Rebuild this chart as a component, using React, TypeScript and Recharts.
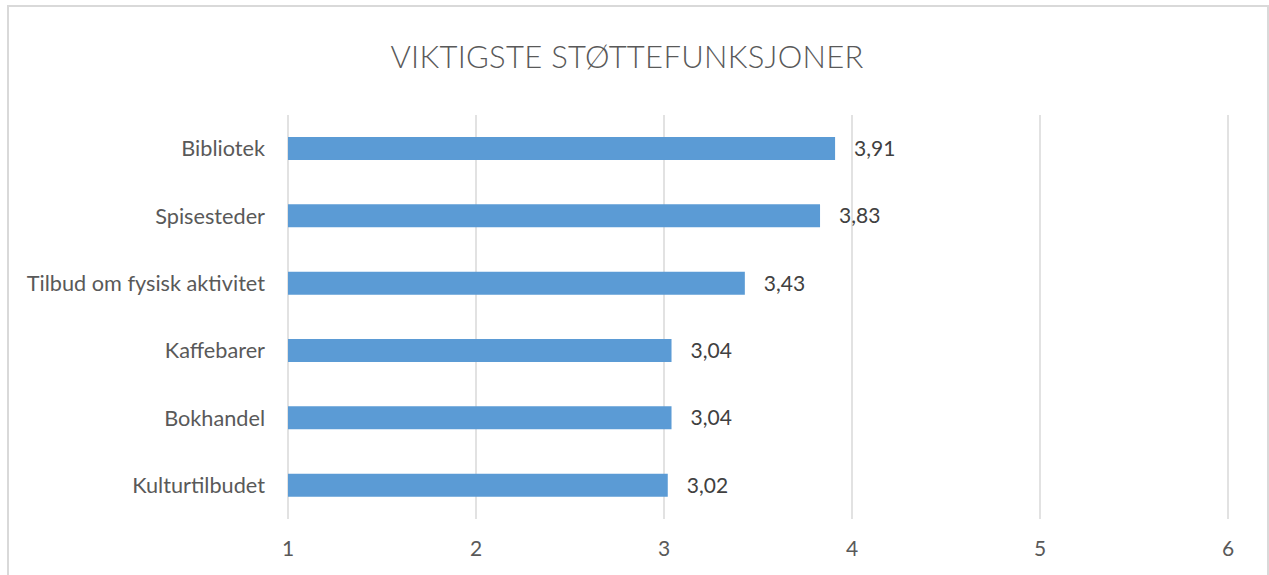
import React from "react";
import { BarChart, Bar, XAxis, YAxis, CartesianGrid, LabelList } from "recharts";

const categories = ["Bibliotek", "Spisesteder", "Tilbud om fysisk aktivitet", "Kaffebarer", "Bokhandel", "Kulturtilbudet"];
const values = [3.91, 3.83, 3.43, 3.04, 3.04, 3.02];
const xTicks = [1, 2, 3, 4, 5, 6];
const title = "VIKTIGSTE STØTTEFUNKSJONER";

const data = categories.map((c, i) => ({ name: c, value: values[i] }));

const font = "Lato, 'Open Sans', sans-serif";

export default function App() {
  return (
    <div style={{ position: "absolute", left: 0, top: 0, width: 1269, height: 575, background: "#fff", overflow: "hidden", fontFamily: font }}>
      <div style={{ position: "absolute", left: 7, top: 5, width: 1258, height: 600, border: "2px solid #d9d9d9" }} />
      <div style={{ position: "absolute", left: 0, top: 37, width: 1254, textAlign: "center", fontSize: 31, fontWeight: 300, color: "#595959", letterSpacing: 0.3 }}>
        {title}
      </div>
      <div style={{ position: "absolute", left: 0, top: 0 }}>
        <BarChart width={1269} height={575} data={data} layout="vertical" margin={{ top: 115, right: 41, bottom: 16, left: 0 }} barCategoryGap="33%">
          <CartesianGrid horizontal={false} vertical={true} stroke="#d9d9d9" strokeWidth={1.5} />
          <XAxis type="number" domain={[1, 6]} ticks={xTicks} axisLine={false} tickLine={false} tickSize={0} tickMargin={22} height={40} tick={{ fill: "#595959", fontSize: 21, fontFamily: font }} />
          <YAxis type="category" dataKey="name" width={288} axisLine={false} tickLine={false} tickSize={0} tickMargin={23} tick={{ fill: "#595959", fontSize: 21.7, fontFamily: font }} />
          <Bar dataKey="value" fill="#5b9bd5" barSize={23} isAnimationActive={false}>
            <LabelList dataKey="value" position="right" offset={19} formatter={(v: number) => v.toFixed(2).replace(".", ",")} style={{ fill: "#404040", fontSize: 21, fontFamily: font }} />
          </Bar>
        </BarChart>
      </div>
    </div>
  );
}
